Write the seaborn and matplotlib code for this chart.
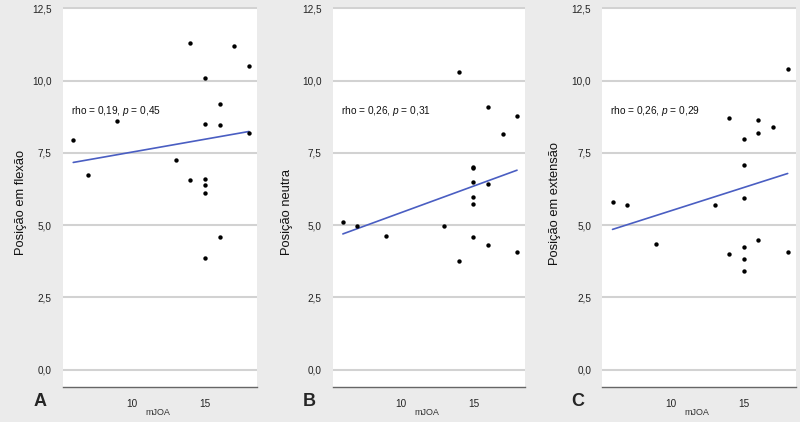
import numpy as np
import matplotlib
matplotlib.use("Agg")
import matplotlib.pyplot as plt
import seaborn as sns
import pandas as pd

# mJOA scores (same patients in every panel)
mjoa = [6, 7, 9, 13, 14, 14, 15, 15, 15, 15, 15, 15, 16, 16, 16, 17, 18, 18]

# A - flexion
flexao = [7.95, 6.73, 8.60, 7.27, 11.30, 6.58, 10.10, 8.49, 6.60, 6.38, 6.10, 3.86,
          9.20, 8.45, 4.60, 11.20, 10.50, 8.20]
# B - neutral
neutra = [5.10, 4.96, 4.64, 4.96, 10.30, 3.75, 7.03, 6.97, 6.51, 5.96, 5.75, 4.59,
          9.09, 6.43, 4.33, 8.15, 8.79, 4.07]
# C - extension
extensao = [5.81, 5.70, 4.36, 5.70, 8.70, 4.01, 7.97, 7.07, 5.95, 4.24, 3.84, 3.40,
            8.64, 8.18, 4.48, 8.41, 10.39, 4.06]

y_labels = ["Posição em flexão", "Posição neutra", "Posição em extensão"]
panel_letters = ["A", "B", "C"]
rho_vals = ["0,19", "0,26", "0,26"]
p_vals = ["0,45", "0,31", "0,29"]

y_ticks = [0, 2.5, 5, 7.5, 10, 12.5]
y_tick_labels = ["0,0", "2,5", "5,0", "7,5", "10,0", "12,5"]
x_ticks = [10, 15]

sns.set_style("white")
plt.rcParams["font.family"] = ["Liberation Sans", "DejaVu Sans"]
plt.rcParams["mathtext.fontset"] = "custom"
plt.rcParams["mathtext.it"] = "Liberation Sans:italic"
plt.rcParams["mathtext.rm"] = "Liberation Sans"

fig = plt.figure(figsize=(8, 4.22), dpi=100, facecolor="#ebebeb")

# axes boxes in figure fraction (left, bottom, width, height)
lefts = [63 / 800, 332.7 / 800, 602.3 / 800]
widths = [194 / 800, 192.3 / 800, 193.4 / 800]
ylab_x = [-0.186, -0.208, -0.216]
ylab_y = [0.486, 0.461, 0.484]
letter_x = [40, 309, 578]

series = [flexao, neutra, extensao]

for i in range(3):
    ax = fig.add_axes([lefts[i], 35 / 422, widths[i], 380 / 422])
    df = pd.DataFrame({"mJOA": mjoa, "val": series[i]})
    sns.regplot(data=df, x="mJOA", y="val", ci=None, ax=ax,
                scatter_kws=dict(s=10, color="black", alpha=1, linewidths=0, zorder=3),
                line_kws=dict(color="#4a5ec2", lw=1.2, zorder=2))
    ax.set_facecolor("white")
    ax.set_xlim(5.3, 18.55)
    ax.set_ylim(-0.6, 12.55)

    ax.set_yticks(y_ticks)
    ax.set_yticklabels(y_tick_labels)
    ax.set_xticks(x_ticks)
    ax.set_xticklabels([str(t) for t in x_ticks])
    ax.yaxis.grid(True, color="#d2d2d2", lw=1.5, zorder=0)
    ax.set_axisbelow(True)

    for s in ["left", "right", "top"]:
        ax.spines[s].set_visible(False)
    ax.spines["bottom"].set_color("#666666")
    ax.spines["bottom"].set_linewidth(1.0)

    ax.tick_params(axis="y", length=0, pad=8, labelsize=7.2, labelcolor="#222222")
    ax.tick_params(axis="x", direction="in", length=4, width=0.8, color="#555555",
                   pad=8.5, labelsize=7.2, labelcolor="#222222")

    ax.set_xlabel("mJOA", fontsize=6.5, color="#333333")
    ax.xaxis.set_label_coords(0.49, -0.055)
    ax.set_ylabel(y_labels[i], fontsize=9.3, color="#111111")
    ax.yaxis.set_label_coords(ylab_x[i], ylab_y[i])

    ax.text(0.042, 0.726, "rho = " + rho_vals[i] + ", $\\mathit{p}$ = " + p_vals[i],
            transform=ax.transAxes, fontsize=7.3, ha="left", va="center",
            color="#111111")

    fig.text(letter_x[i] / 800, 21 / 422, panel_letters[i], fontsize=13,
             fontweight="bold", ha="center", va="center")

fig.savefig("out.png", dpi=100, facecolor=fig.get_facecolor())
